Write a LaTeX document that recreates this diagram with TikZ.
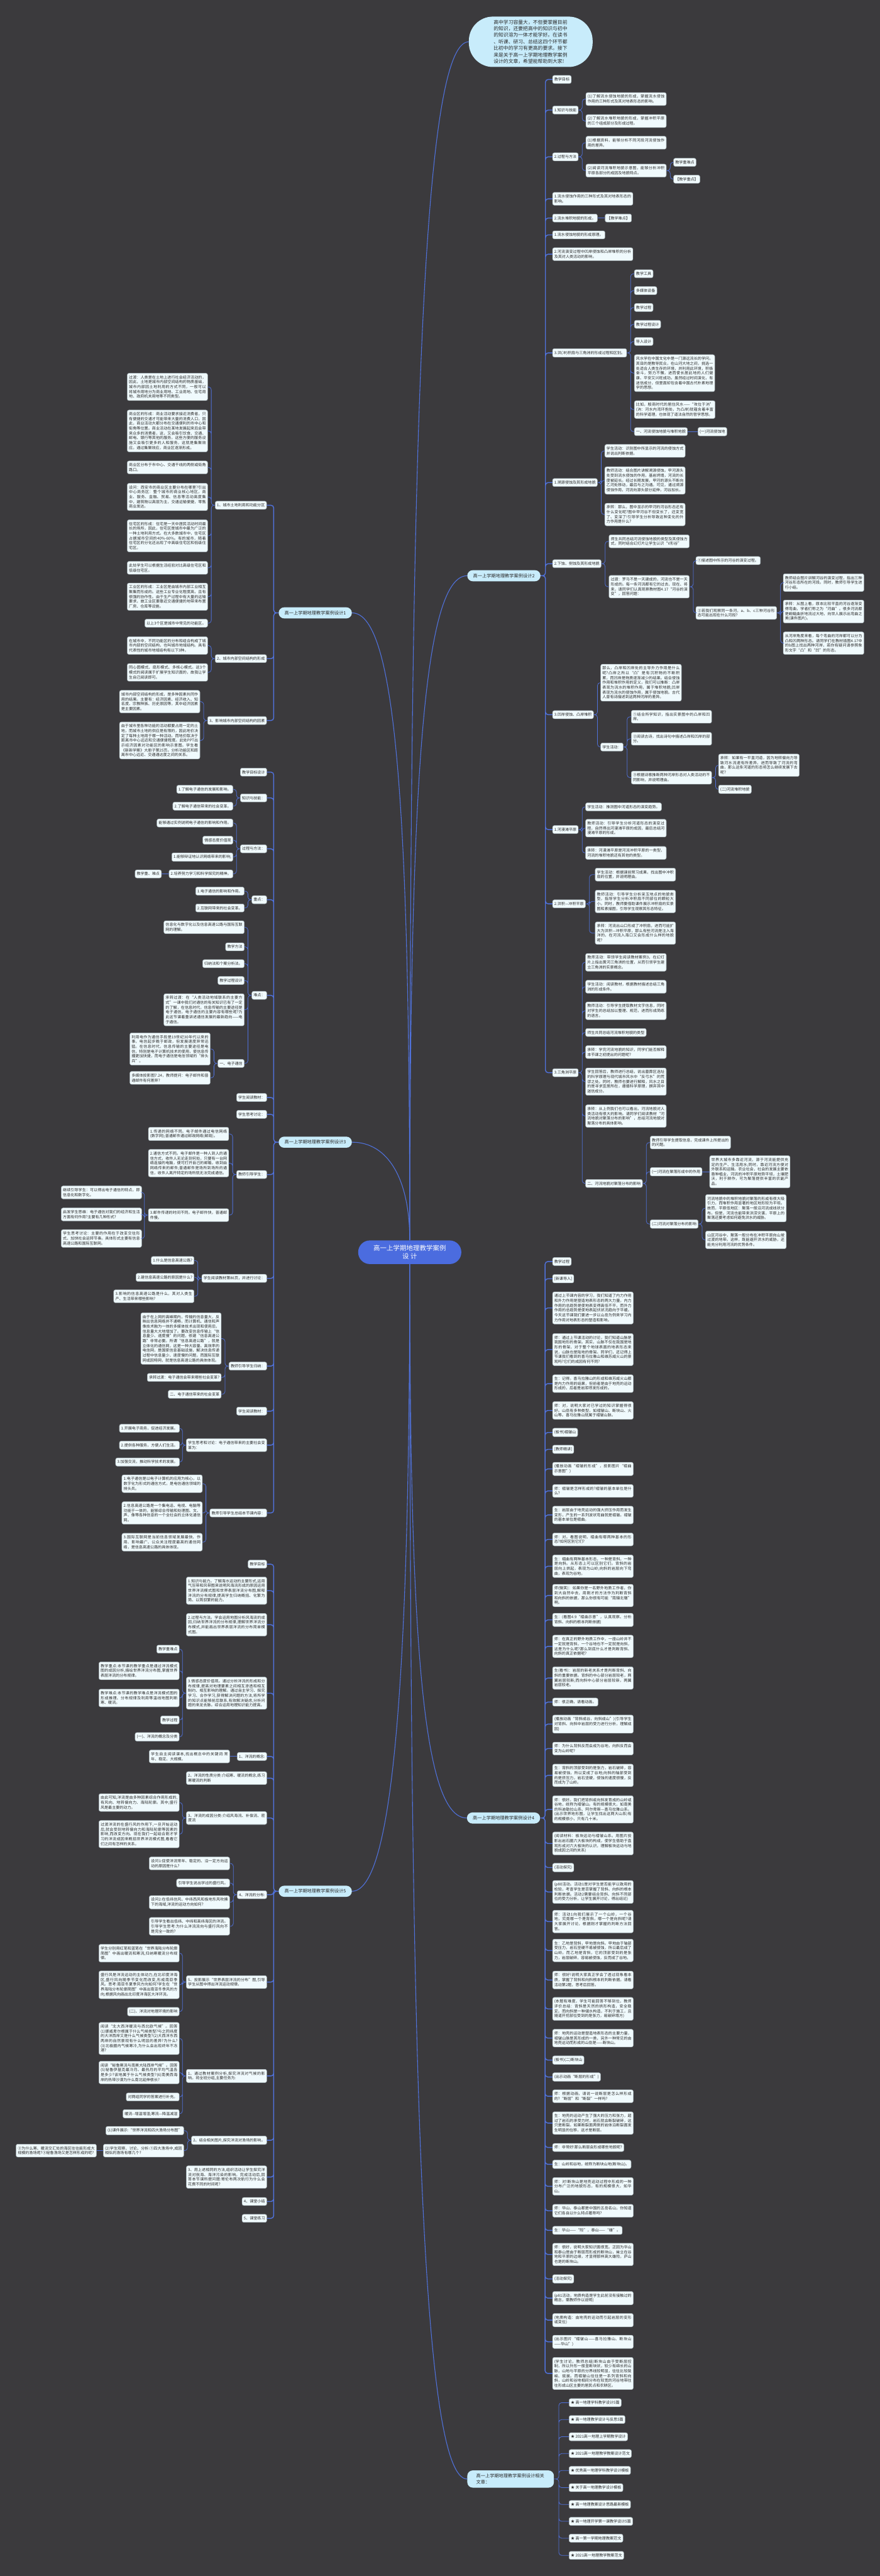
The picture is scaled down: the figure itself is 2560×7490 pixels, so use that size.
\documentclass[tikz,border=0pt]{standalone}
\usepackage{fontspec}
\setmainfont{Noto Sans CJK SC}
\XeTeXlinebreaklocale "zh"
\XeTeXlinebreakskip=0pt plus 1pt
\definecolor{bg}{HTML}{3B3A3D}
\definecolor{linkc}{HTML}{5072DC}
\definecolor{boxfill}{HTML}{F0FAFD}
\definecolor{boxline}{HTML}{A8B4BA}
\definecolor{branchfill}{HTML}{C8ECFB}
\definecolor{rootfill}{HTML}{4B6CDF}
\definecolor{ink}{HTML}{2A2A2A}

\begin{document}
\begin{tikzpicture}[x=0.5pt, y=-0.5pt,
  box/.style={draw=boxline, fill=boxfill, line width=0.5pt, rounded corners=2.5pt,
    inner xsep=2.5pt, inner ysep=3.3pt, text=ink, font=\fontsize{5.55}{7}\selectfont},
  rbox/.style={box, anchor=west},
  lbox/.style={box, anchor=east},
  tw/.code={\pgfmathsetlengthmacro\boxtw{#1*0.5pt-4.6pt}\tikzset{text width=\boxtw, align=justify}},
  branch/.style={fill=branchfill, rounded corners=8pt, inner xsep=8.5pt, inner ysep=5pt,
    text=ink, font=\fontsize{6.6}{9}\selectfont},
  root/.style={fill=rootfill, text=white, rounded corners=17pt, inner xsep=20pt, inner ysep=6.5pt,
    text width=110pt, align=center, font=\fontsize{9.5}{12.5}\selectfont},
  intro/.style={fill=branchfill, rounded corners=35pt, inner xsep=36pt, inner ysep=4.7pt,
    text width=108pt, align=left, text=ink, font=\fontsize{7.15}{9.5}\selectfont},
  link/.style={draw=linkc, line width=0.7pt, rounded corners=4pt},
  mainlink/.style={link, line width=1.3pt},
  curve/.style={draw=linkc, line width=1pt},
  rl/.style={to path={-- ++(#1,0) |- (\tikztotarget)}}, rl/.default=5.5pt,
  ll/.style={to path={-- ++(-#1,0) |- (\tikztotarget)}}, ll/.default=5.5pt]

  \fill[bg] (0,0) rectangle (2560,7490);
  \useasboundingbox (0,0) rectangle (2560,7490);

  \node[root] (root) at (1192,3641) {高一上学期地理教学案例\\设计};
  \node[intro] (intro) at (1544,121.5) {高中学习容量大，不但要掌握目前\\的知识，还要把高中的知识与初中\\的知识溶为一体才能学好。在读书\\、听课、研习、总结这四个环节都\\比初中的学习有更高的要求。接下\\来是关于高一上学期地理教学案例\\设计的文章，希望能帮助到大家!};

  \node[branch, anchor=west] (d2) at (1359,1674) {高一上学期地理教学案例设计2};
  \node[branch, anchor=east] (d1) at (1024,1782) {高一上学期地理教学案例设计1};
  \node[branch, anchor=east] (d3) at (1024,3321) {高一上学期地理教学案例设计3};
  \node[branch, anchor=west] (d4) at (1358,5286) {高一上学期地理教学案例设计4};
  \node[branch, anchor=east] (d5) at (1024,5499) {高一上学期地理教学案例设计5};
  \node[branch, anchor=west, text width=100pt, align=left, inner xsep=13pt] (d6) at (1359,7208) {高一上学期地理教学案例设计相关\\文章：};

  \draw[curve] (root.north) .. controls (1192,1238) and (1231,121.5) .. (intro.west);
  \draw[curve] (root.north) .. controls (1192,2300) and (1230,1674) .. (d2.west);
  \draw[curve] (root.north) .. controls (1192,2366) and (1153,1782) .. (d1.east);
  \draw[curve] (root.north) .. controls (1192,3430) and (1130,3321) .. (d3.east);
  \draw[curve] (root.south) .. controls (1192,4771) and (1230,5286) .. (d4.west);
  \draw[curve] (root.south) .. controls (1192,4916) and (1140,5499) .. (d5.east);
  \draw[curve] (root.south) .. controls (1192,6078) and (1230,7208) .. (d6.west);

  % design 2
  \node[rbox] (a1) at (1607,231) {教学目标};
  \node[rbox] (a2) at (1607,320) {1.知识与技能};
  \node[rbox, tw=233] (a2a) at (1704,288) {(1)了解流水侵蚀地貌的形成，掌握流水侵蚀作用的三种形式及其对地表形态的影响。};
  \node[rbox, tw=233] (a2b) at (1704,352) {(2)了解流水堆积地貌的形成，掌握冲积平原的三个组成部分及形成过程。};
  \node[rbox] (a3) at (1607,456) {2.过程与方法};
  \node[rbox, tw=233] (a3a) at (1704,415) {(1)根据资料，能够分析不同河段河流侵蚀作用的差异。};
  \node[rbox, tw=233] (a3b) at (1704,496) {(2)阅读河流堆积地貌示意图，能够分析冲积平原各部分的成因及地貌特点。};
  \node[rbox] (a3b1) at (1959,472) {教学重难点};
  \node[rbox] (a3b2) at (1959,521) {【教学重点】};
  \node[rbox, tw=233] (a4) at (1607,578) {1.流水侵蚀作用的三种形式及其对地表形态的影响。};
  \node[rbox] (a5) at (1607,634) {2.流水堆积地貌的形成。};
  \node[rbox] (a5a) at (1760,634) {【教学难点】};
  \node[rbox] (a6) at (1607,683) {1.流水侵蚀地貌的形成原理。};
  \node[rbox, tw=233] (a7) at (1607,739) {2.河流演变过程中凹岸侵蚀和凸岸堆积的分析及其对人类活动的影响。};
  \node[rbox] (a8) at (1607,1026) {3.洪(冲)积扇与三角洲的形成过程和区别。};
  \node[rbox] (a8a) at (1845,796) {教学工具};
  \node[rbox] (a8b) at (1845,845) {多媒体设备};
  \node[rbox] (a8c) at (1845,894) {教学过程};
  \node[rbox] (a8d) at (1845,943) {教学过程设计};
  \node[rbox] (a8e) at (1845,993) {导入设计};
  \node[rbox, tw=233] (a8f) at (1845,1085) {风水学在中国文化中是一门源远流长的学问。其目的是教导民众，在山河大地之间，挑选一处适合人类生存的环境，并利用此环境，积极奋斗，努力不懈，进而使长居此地的人们健康、平安又兴旺成功。虽然经过时间演化，有迷信成分，但里面却包含着中国古代朴素地理学的思想。};
  \node[rbox, tw=234] (a8g) at (1845,1191) {比如，殷商时代的居住风水——“攻位于汭”(汭：河水内湾环抱处，为凸岸)就蕴含着丰富的科学道理，也体现了道法自然的哲学思想。};
  \node[rbox] (a8h) at (1845,1255) {一、河流侵蚀地貌与堆积地貌};
  \node[rbox] (a8h1) at (2030,1255) {(一)河流侵蚀地};
  \node[rbox] (a9) at (1607,1403) {1.溯源侵蚀及其形成地貌};
  \node[rbox, tw=233] (a9a) at (1759,1311) {学生活动：识别图中所显示的河流的侵蚀方式并说出判断依据。};
  \node[rbox, tw=233] (a9b) at (1759,1397) {教师活动：结合图片讲解溯源侵蚀。甲河源头处受到流水侵蚀的作用，基岩坍塌，河流的长度被延长。经过长期发展，甲河的源头不断向乙河处移动，最后与之沟通。可见，通过溯源侵蚀作用，河流向源头部分延伸，河谷加长。};
  \node[rbox, tw=233] (a9c) at (1759,1496) {承转：那么，图中显示的甲河的河谷形态还有什么变化呢?图中甲河谷不但变长了，还变宽了、变深了!引导学生分析导致这种变化的外力作用是什么?};
  \node[rbox] (a10) at (1607,1639) {2.下蚀、侧蚀及其形成地貌};
  \node[rbox, tw=233] (a10a) at (1771,1574) {师生共同总结河流侵蚀地貌的类型及其侵蚀方式，同时结合幻灯片让学生认识“V形谷”};
  \node[rbox, tw=233] (a10b) at (1771,1706) {过渡：罗马不是一天建成的，河流也不是一天形成的。每一条河流都有它的过去、现在、将来，请同学们认真观察教材图4.17“河谷的演变”，回答问题：};
  \node[rbox] (a10b1) at (2024,1630) {①描述图中所示的河谷的演变过程。};
  \node[rbox, tw=234] (a10b2) at (2024,1782) {②若我们观察同一条河，a、b、c三种河谷形态可能出现在什么河段?};
  \node[rbox, tw=234] (a10b2a) at (2278,1694) {教师结合图片讲解河谷的演变过程，指出三种河谷形态所在的河段。同时，教师引导学生进行小结。};
  \node[rbox, tw=234] (a10b2b) at (2278,1778) {承转：从图上看，原本比较平直的河谷逐渐变得弯曲，学者们称之为“河曲”。很多河流都是蜿蜒曲折地流过大地，向世人展示出弯曲之美(课件图片)。};
  \node[rbox, tw=234] (a10b2c) at (2278,1870) {从河岸角度来看，每个弯曲的河岸都可以分为凸和凹两种形态。请同学们在教材插图4.17中的b图上找出两种河岸，若你有疑问请参照象形文字“凸”和“凹”的形态。};
  \node[rbox] (a11) at (1607,2078) {3.凹岸侵蚀、凸岸堆积};
  \node[rbox, tw=234] (a11a) at (1747,1985) {那么，凸岸和凹岸处的主导外力作用是什么呢?凸岸之所以“凸”是有沉积物的不断积累，而凹岸是物质逐渐减少的结果。结合侵蚀作用和堆积作用的定义，我们可以推断：凸岸表现为流水的堆积作用，属于堆积地貌;凹岸表现为流水的侵蚀作用，属于侵蚀地貌。古代人曾有诗描述到这两种河岸的差异。};
  \node[rbox] (a11b) at (1747,2172) {学生活动：};
  \node[rbox, tw=233] (a11b1) at (1836,2084) {①结合所学知识，指出实景图中的凸岸和凹岸。};
  \node[rbox, tw=233] (a11b2) at (1836,2148) {②阅读古诗，找出诗句中描述凸岸和凹岸的部分。};
  \node[rbox, tw=233] (a11b3) at (1836,2261) {③根据诗歌推断两种河岸形态对人类活动的不同影响，并说明理由。};
  \node[rbox, tw=234] (a11b3a) at (2090,2225) {承转：如果有一平直河道，因为地转偏向力导致河水流速有所差异，进而导致了河流的弯曲，那么这条河道的形态将怎么继续发展下去呢?};
  \node[rbox] (a11b3b) at (2090,2295) {(二)河流堆积地貌};
  \node[rbox] (a12) at (1607,2412) {1.河漫滩平原};
  \node[rbox] (a12a) at (1703,2346) {学生活动：推测图中河道形态的演变趋势。};
  \node[rbox, tw=234] (a12b) at (1703,2408) {教师活动：引导学生分析河道形态的演变过程，自然得出河漫滩平原的成因，最后总结河漫滩平原的形成。};
  \node[rbox, tw=234] (a12c) at (1703,2480) {承转：河漫滩平原是河流冲积平原的一类型，河流的堆积地貌还有其他的类型。};
  \node[rbox] (a13) at (1607,2628) {2.洪积—冲积平原};
  \node[rbox, tw=233] (a13a) at (1731,2543) {学生活动：根据课前预习成果，找出图中冲积扇的位置，并说明理由。};
  \node[rbox, tw=233] (a13b) at (1731,2621) {教师活动：引导学生分析采玉地点的地貌类型，指导学生分析冲积扇不同部位的颗粒大小。同时，教师要借助课件展示冲积扇的实景图和素描图，引导学生观察其形态特征。};
  \node[rbox, tw=233] (a13c) at (1731,2713) {承转：河流出山口形成了冲积扇，进而可能扩大为洪积—冲积平原，那么有些河流是注入海洋的，在河流入海口又会形成什么样的地貌呢?};
  \node[rbox] (a14) at (1607,3119) {3.三角洲平原};
  \node[rbox, tw=234] (a14a) at (1703,2798) {教师活动：带领学生阅读教材案例3，在幻灯片上指出黄河三角洲的位置，从而引领学生建立三角洲的实景概念。};
  \node[rbox, tw=234] (a14b) at (1703,2869) {学生活动：阅读教材，根据教材描述总结三角洲的形成条件。};
  \node[rbox, tw=234] (a14c) at (1703,2939) {教师活动：引导学生提取教材文字信息，同时对学生的总结加以整理、规范，进而形成简练的语言。};
  \node[rbox] (a14d) at (1703,3002) {师生共同总结河流堆积地貌的类型};
  \node[rbox, tw=234] (a14e) at (1703,3059) {承转：学完河流地貌的知识，同学们能否解释本节课之初提出的问题呢?};
  \node[rbox, tw=234] (a14f) at (1703,3145) {学生回答后，教师进行总结，说出墓葬区选址的科学原理与现代城市风水中“反弓水”的荒谬之处。同时，教师也要进行解释，风水之目的是寻求宜居所在，遵循科学原理，摒弃其中迷信成分。};
  \node[rbox, tw=234] (a14g) at (1703,3245) {承转：从上例我们也可以看出，河流地貌对人类活动有很大的影响。请同学们阅读教材“河流地貌对聚落分布的影响”，总结河流地貌对聚落分布的具体影响。};
  \node[rbox] (a14h) at (1703,3441) {二、河流地貌对聚落分布的影响};
  \node[rbox, tw=233] (a14h1) at (1891,3322) {教师引导学生提取信息，完成课件上所提出的的问题。};
  \node[rbox] (a14h2) at (1891,3407) {(一)河流在聚落形成中的作用};
  \node[rbox, tw=233] (a14h2a) at (2064,3407) {世界大城市多靠近河流，源于河流能提供充足的生产、生活用水;同时，靠近河流方便对外联系和运输。农业社会，社会的发展主要依靠种植业，河流的冲积平原地势平坦，土壤肥沃，利于耕作，可为聚落提供丰富的农副产品。};
  \node[rbox] (a14h3) at (1891,3559) {(二)河流对聚落分布的影响};
  \node[rbox, tw=234] (a14h3a) at (2052,3513) {河流地貌中的堆积地貌对聚落的形成有很大吸引力，而堆积作用显著的地区地形较为平坦。故而，平原低地区：聚落一般沿河流成线状分布。但是，河流也能带来洪涝灾害，平原上的聚落还要考虑如何避免洪水的威胁。};
  \node[rbox, tw=234] (a14h3b) at (2052,3605) {山区河谷中，聚落一般分布在冲积平原向山坡过渡的地带。这样，既能避开洪水的威胁，还能充分利用河流的优势条件。};

  \draw[mainlink, rl=7pt] (d2.east) to (a1.west) (d2.east) to (a2.west) (d2.east) to (a3.west)
    (d2.east) to (a4.west) (d2.east) to (a5.west) (d2.east) to (a6.west) (d2.east) to (a7.west)
    (d2.east) to (a8.west) (d2.east) to (a9.west) (d2.east) to (a10.west) (d2.east) to (a11.west)
    (d2.east) to (a12.west) (d2.east) to (a13.west) (d2.east) to (a14.west);
  \draw[link, rl] (a2.east) to (a2a.west) (a2.east) to (a2b.west);
  \draw[link, rl] (a3.east) to (a3a.west) (a3.east) to (a3b.west);
  \draw[link, rl] (a3b.east) to (a3b1.west) (a3b.east) to (a3b2.west);
  \draw[link] (a5.east) -- (a5a.west); \draw[link] (a8h.east) -- (a8h1.west);
  \draw[link, rl] (a8.east) to (a8a.west) (a8.east) to (a8b.west) (a8.east) to (a8c.west)
    (a8.east) to (a8d.west) (a8.east) to (a8e.west) (a8.east) to (a8f.west)
    (a8.east) to (a8g.west) (a8.east) to (a8h.west);
  \draw[link, rl] (a9.east) to (a9a.west) (a9.east) to (a9b.west) (a9.east) to (a9c.west);
  \draw[link, rl] (a10.east) to (a10a.west) (a10.east) to (a10b.west);
  \draw[link, rl] (a10b.east) to (a10b1.west) (a10b.east) to (a10b2.west);
  \draw[link, rl] (a10b2.east) to (a10b2a.west) (a10b2.east) to (a10b2b.west) (a10b2.east) to (a10b2c.west);
  \draw[link, rl] (a11.east) to (a11a.west) (a11.east) to (a11b.west);
  \draw[link, rl] (a11b.east) to (a11b1.west) (a11b.east) to (a11b2.west) (a11b.east) to (a11b3.west);
  \draw[link, rl] (a11b3.east) to (a11b3a.west) (a11b3.east) to (a11b3b.west);
  \draw[link, rl] (a12.east) to (a12a.west) (a12.east) to (a12b.west) (a12.east) to (a12c.west);
  \draw[link, rl] (a13.east) to (a13a.west) (a13.east) to (a13b.west) (a13.east) to (a13c.west);
  \draw[link, rl] (a14.east) to (a14a.west) (a14.east) to (a14b.west) (a14.east) to (a14c.west)
    (a14.east) to (a14d.west) (a14.east) to (a14e.west) (a14.east) to (a14f.west)
    (a14.east) to (a14g.west) (a14.east) to (a14h.west);
  \draw[link, rl] (a14h.east) to (a14h1.west) (a14h.east) to (a14h2.west) (a14h.east) to (a14h3.west);
  \draw[link] (a14h2.east) -- (a14h2a.west);
  \draw[link, rl] (a14h3.east) to (a14h3a.west) (a14h3.east) to (a14h3b.west);

  % design 1
  \node[lbox] (b1) at (776,1469) {1、城市土地利用和功能分区};
  \node[lbox, tw=233] (b1a) at (604.5,1125) {过渡：人类是在土地上进行社会经济活动的，因此，土地是城市内部空间结构的物质基础，城市内部因土地利用的方式不同，一般可以将城市用地分为商业用地、工业用地、住宅用地、政府机关用地等不同类型。};
  \node[lbox, tw=233] (b1b) at (604.5,1253) {商业区的形成：商业活动要求接近消费者，只有便捷的交通才可能带来大量的消费人口，因此，商业活动大都分布在交通便利的市中心和街角等位置。商业活动在某地发展起来后会带来众多的消费者，这，又会吸引饮食、交通、邮电、银行等其他的服务，这些方便的服务设施又会吸引更多的人和服务，这就是集聚效应。通过集聚效应，商业区逐渐形成。};
  \node[lbox, tw=233] (b1c) at (604.5,1359) {商业区分布于市中心、交通干线的两侧或街角路口。};
  \node[lbox, tw=233] (b1d) at (604.5,1445) {设问：西安市的商业区主要分布在哪里?引出中心商务区：整个城市的商业核心地区，商业、服务、金融、贸易、信息等活动高度集中，建筑物以高层为主，交通运输便捷，零售商业发达。};
  \node[lbox, tw=233] (b1e) at (604.5,1558) {住宅区的形成：住宅是一天中居民活动时间最长的场所，因此，住宅区是城市中最为广泛的一种土地利用方式。在大多数城市中，住宅区占据城市空间的40\%-60\%。有的城市，随着住宅区的分化还出现了中高级住宅区和低级住宅区。};
  \node[lbox, tw=233] (b1f) at (604.5,1651) {此处学生可以根据生活经验对比高级住宅区和低级住宅区。};
  \node[lbox, tw=233] (b1g) at (604.5,1735) {工业区的形成：工业区是由城市内部工业相互聚集而形成的。这些工业专业化程度高，且有很强的协作性。由于生产过程中有大量的运输要求，故工业区要靠近交通便捷的地带来布置厂房、仓库等设施。};
  \node[lbox] (b1h) at (604.5,1812) {以上3个区是城市中常见的功能区。};
  \node[lbox] (b2) at (776,1915) {2、城市内部空间结构的形成};
  \node[lbox, tw=233] (b2a) at (604.5,1877) {在城市中，不同功能区的分布和组合构成了城市内部的空间结构，也叫城市地域结构。具有代表性的城市地域结构有以下3种。};
  \node[lbox, tw=233] (b2b) at (604.5,1955) {同心圆模式、扇形模式、多核心模式。这3个模式的阅读属于扩展学生知识面的，故我让学生自己阅读即可。};
  \node[lbox] (b3) at (776,2095) {3、影响城市内部空间结构的因素};
  \node[lbox, tw=233] (b3a) at (582,2040) {城市内部空间结构的形成，是多种因素共同作用的结果。主要有：经济因素、经济收入、知名度、宗教种族、历史原因等，其中经济因素是主要因素。};
  \node[lbox, tw=233] (b3b) at (582,2153) {由于城市里各种功能的活动都要占用一定的土地，而城市土地的供应是有限的，因此地价决定了每种土地用于哪一种活动。而地价取决于距离市中心远近和交通便捷程度。此处PPT出示经济因素对功能区的影响示意图。学生看《新新学案》大册子第25页。分析功能区和距离市中心远近、交通通达度之间的关系。};

  \draw[mainlink, ll=7pt] (d1.west) to (b1.east) (d1.west) to (b2.east) (d1.west) to (b3.east);
  \draw[link, ll] (b1.west) to (b1a.east) (b1.west) to (b1b.east) (b1.west) to (b1c.east)
    (b1.west) to (b1d.east) (b1.west) to (b1e.east) (b1.west) to (b1f.east)
    (b1.west) to (b1g.east) (b1.west) to (b1h.east);
  \draw[link, ll] (b2.west) to (b2a.east) (b2.west) to (b2b.east);
  \draw[link, ll] (b3.west) to (b3a.east) (b3.west) to (b3b.east);

  % design 3
  \node[lbox] (e1) at (776.5,2245) {教学目标设计};
  \node[lbox] (e2) at (776.5,2320) {知识与技能：};
  \node[lbox] (e2a) at (678,2295) {1.了解电子通信的发展和影响。};
  \node[lbox] (e2b) at (678,2344) {2.了解电子通信带来的社会变革。};
  \node[lbox] (e3) at (776.5,2468) {过程与方法：};
  \node[lbox] (e3a) at (678,2393) {能够通过实例说明电子通信的影响和作用。};
  \node[lbox] (e3b) at (678,2443) {情感态度价值观};
  \node[lbox] (e3c) at (678,2492) {1.能够辩证地认识网络带来的影响;};
  \node[lbox] (e3d) at (678,2541) {2.培养努力学习和科学探究的精神。};
  \node[lbox] (e3d1) at (470,2541) {教学重、难点};
  \node[lbox] (e4) at (776.5,2616) {重点：};
  \node[lbox] (e4a) at (711,2591) {1.电子通信的影响和作用。};
  \node[lbox] (e4b) at (711,2640) {2.互联网带来的社会变革。};
  \node[lbox] (e5) at (776.5,2894) {难点：};
  \node[lbox, tw=233] (e5a) at (711,2696) {信息化与数字化以及信息高速公路与国际互联网的理解。};
  \node[lbox] (e5b) at (711,2753) {教学方法};
  \node[lbox] (e5c) at (711,2802) {归纳法和个案分析法。};
  \node[lbox] (e5d) at (711,2851) {教学过程设计};
  \node[lbox, tw=233] (e5e) at (711,2936) {承转过渡：在“人类活动地域联系的主要方式”一课中我们对通信的有关知识已有了一定的了解，在信息时代，信息传输的主要途径是电子通信，电子通信的主要内容有哪些呢?为此这节课着重讲述通信发展的最新趋向——电子通信。};
  \node[lbox] (e5f) at (711,3092) {一、电子通信};
  \node[lbox, tw=233] (e5f1) at (612,3050) {利用电作为通信手段是19世纪30年代以来的事，电信起步晚于邮政，但发展速度异常迅猛。在信息时代，信息传输的主要途径是电信，特别是电子计算机技术的使用，使信息传播更加快捷，而电子通信是电信领域的“排头兵”。};
  \node[lbox, tw=233] (e5f2) at (612,3134) {多媒体投影图7.24，教师提问：电子邮件和普通邮件有何差异?};
  \node[lbox] (e6) at (776.5,3191) {学生阅读教材：};
  \node[lbox] (e7) at (776.5,3240) {学生思考讨论：};
  \node[lbox] (e8) at (776.5,3415) {教师引导学生：};
  \node[lbox, tw=233] (e8a) at (666,3297) {1.传递的网络不同。电子邮件通过电信网络(数字网);普通邮件通过邮政网络(邮局)。};
  \node[lbox, tw=233] (e8b) at (666,3382) {2.通信方式不同。电子邮件是一种人到人的通信方式，收件人无论走到何处，只要有一台网络连接的电脑，便可打开自己的邮箱，收到由网络传来的邮件;普通邮件是场所到场所的通信，收件人离开特定的场所就无法完成通信。};
  \node[lbox, tw=233] (e8c) at (666,3533) {3.邮件传递的时间不同。电子邮件快，普通邮件慢。};
  \node[lbox, tw=233] (e8c1) at (412.5,3467) {继续引导学生：可以得出电子通信的特点，即信息化和数字化。};
  \node[lbox, tw=233] (e8c2) at (412.5,3531) {启发学生思维：电子通信对我们的经济和生活方面有何作用?主要有几种形式?};
  \node[lbox, tw=233] (e8c3) at (412.5,3601) {学生思考讨论：主要的作用在于改变交往形式、加快社会运转节奏。具体形式主要有信息高速公路和国际互联网。};
  \node[lbox] (e9) at (776.5,3717) {学生阅读教材第86页，并进行讨论：};
  \node[lbox] (e9a) at (565,3665) {1.什么是信息高速公路?};
  \node[lbox] (e9b) at (565,3714) {2.建信息高速公路的原因是什么?};
  \node[lbox, tw=233] (e9c) at (565,3769) {3.影响的信息高速公路是什么，其对人类生产、生活带来哪些影响?};
  \node[lbox] (e10) at (776.5,3972) {教师引导学生归纳：};
  \node[lbox, tw=233] (e10a) at (644,3892) {由于在上网的高峰期内，传输的信息量大，反映出信息网络并不通畅，而计算机、通信和声像技术融为一体的多媒体技术出现和使用后，信息量大大地增加了。要改变信息传输上“信息量少、速度慢”的问题，修建“信息高速公路”非常必要。所谓“信息高速公路”，就是立体化的通信网，这是一种大容量、高效率的电信网，是国家信息基础设施，解决信息传递过程中信息量少、速度慢的问题，而国际互联网或因特网，就是信息高速公路的具体体现。};
  \node[lbox] (e10b) at (644,4005) {承转过渡：电子通信会带来哪些社会变革?};
  \node[lbox] (e10c) at (644,4054) {二、电子通信带来的社会变革};
  \node[lbox] (e11) at (776.5,4103) {学生阅读教材：};
  \node[lbox, tw=233] (e12) at (776.5,4202) {学生思考和讨论：电子通信带来的主要社会变革为：};
  \node[lbox] (e12a) at (522.6,4153) {1.开展电子商务，促进经济发展。};
  \node[lbox] (e12b) at (522.6,4202) {2.提供各种服务，方便人们生活。};
  \node[lbox] (e12c) at (522.6,4251) {3.加强交流，推动科学技术的发展。};
  \node[lbox] (e13) at (776.5,4399) {教师引导学生总结本节课内容：};
  \node[lbox, tw=233] (e13a) at (589,4314) {1.电子通信是以电子计算机的应用为核心，以数字化为形式的通信方式，是电信通信领域的排头兵。};
  \node[lbox, tw=233] (e13b) at (589,4399) {2.信息高速公路是一个集电话、电视、电脑等功能于一体的，能够综合传输和处理图、文、声、像等各种信息的一个全社会的立体化通信网。};
  \node[lbox, tw=233] (e13c) at (589,4484) {3.国际互联网是当前信息领域发展最快、作用、影响最广、公众关注程度最高的通信网络，是信息高速公路的具体体现。};

  \draw[mainlink, ll=7pt] (d3.west) to (e1.east) (d3.west) to (e2.east) (d3.west) to (e3.east)
    (d3.west) to (e4.east) (d3.west) to (e5.east) (d3.west) to (e6.east) (d3.west) to (e7.east)
    (d3.west) to (e8.east) (d3.west) to (e9.east) (d3.west) to (e10.east) (d3.west) to (e11.east)
    (d3.west) to (e12.east) (d3.west) to (e13.east);
  \draw[link, ll] (e2.west) to (e2a.east) (e2.west) to (e2b.east);
  \draw[link, ll] (e3.west) to (e3a.east) (e3.west) to (e3b.east) (e3.west) to (e3c.east) (e3.west) to (e3d.east);
  \draw[link] (e3d.west) -- (e3d1.east);
  \draw[link, ll] (e4.west) to (e4a.east) (e4.west) to (e4b.east);
  \draw[link, ll] (e5.west) to (e5a.east) (e5.west) to (e5b.east) (e5.west) to (e5c.east)
    (e5.west) to (e5d.east) (e5.west) to (e5e.east) (e5.west) to (e5f.east);
  \draw[link, ll] (e5f.west) to (e5f1.east) (e5f.west) to (e5f2.east);
  \draw[link, ll] (e8.west) to (e8a.east) (e8.west) to (e8b.east) (e8.west) to (e8c.east);
  \draw[link, ll] (e8c.west) to (e8c1.east) (e8c.west) to (e8c2.east) (e8c.west) to (e8c3.east);
  \draw[link, ll] (e9.west) to (e9a.east) (e9.west) to (e9b.east) (e9.west) to (e9c.east);
  \draw[link, ll] (e10.west) to (e10a.east) (e10.west) to (e10b.east) (e10.west) to (e10c.east);
  \draw[link, ll] (e12.west) to (e12a.east) (e12.west) to (e12b.east) (e12.west) to (e12c.east);
  \draw[link, ll] (e13.west) to (e13a.east) (e13.west) to (e13b.east) (e13.west) to (e13c.east);

  % design 4
  \node[rbox] (c1) at (1607,3668) {教学过程};
  \node[rbox] (c2) at (1607,3718) {[新课导入]};
  \node[rbox, tw=234] (c3) at (1607,3803) {通过上节课内容的学习，我们知道了内力作用和外力作用是塑造地表形态的两大力量，内力作用的总趋势是使地表变得高低不平，而外力作用的总趋势是使地表起伏状况趋向于平缓。今天这节课我们要进一步以山岳为例来学习内力作用对地表形态的塑造和影响。};
  \node[rbox, tw=234] (c4) at (1607,3924) {师：通过上节课活动的讨论，我们知道山脉是我国地形的骨架。其实，山脉不仅在我国是地形的骨架，对于整个地球表面的地表形态来说，山脉也是陆地的骨架。同学们，还记得上节课我们看到的喜马拉雅山和维苏威火山的景观吗?它们的成因有何不同?};
  \node[rbox, tw=234] (c5) at (1607,4023) {生：记得。喜马拉雅山的形成和维苏威火山都是内力作用的结果，但前者是由于地壳的运动形成的，后者是岩浆喷发形成的。};
  \node[rbox, tw=234] (c6) at (1607,4101) {师：对，说明大家对已学过的知识掌握得很好。山岳有多种类型，如褶皱山、断块山、火山等。喜马拉雅山就属于褶皱山脉。};
  \node[rbox] (c7) at (1607,4165) {(板书)褶皱山};
  \node[rbox] (c8) at (1607,4214) {[教师精讲]};
  \node[rbox, tw=234] (c9) at (1607,4271) {(播放动画“褶皱的形成”，投影图片“褶曲示意图”)};
  \node[rbox, tw=234] (c10) at (1607,4335) {师：褶皱是怎样形成的?褶皱的基本单位是什么?};
  \node[rbox, tw=234] (c11) at (1607,4405) {生：岩层由于地壳运动的强大挤压作用而发生变形，产生的一系列波状弯曲就是褶皱。褶皱的基本单位是褶曲。};
  \node[rbox, tw=234] (c12) at (1607,4476) {师：对。看图说明，褶曲有哪两种基本的形态?如何区别它们?};
  \node[rbox, tw=234] (c13) at (1607,4554) {生：褶曲有两种基本形态，一种是背斜，一种是向斜。从形态上可以区别它们。背斜的岩层向上拱起，表现为山岭;向斜的岩层向下弯曲，表现为谷地。};
  \node[rbox, tw=234] (c14) at (1607,4639) {师(微笑)：如果你是一名野外地质工作者，你到大自然中去，用刚才的方法作为判断背斜和向斜的依据，那么你很有可能“南辕北辙”啊。};
  \node[rbox, tw=234] (c15) at (1607,4710) {生：(看图4.9“褶曲示意”，认真观察、分析背斜、向斜的根本判断依据)};
  \node[rbox, tw=234] (c16) at (1607,4787) {师：在真正的野外地质工作中，一座山岭并不一定就是背斜，一个谷地也不一定就是向斜，这是为什么呢?那么到底什么才是判断背斜、向斜的真正依据呢?};
  \node[rbox, tw=234] (c17) at (1607,4879) {生(看书)：岩层的新老关系才是判断背斜、向斜的重要依据。背斜的中心部分岩层较老，两翼岩层较新;而向斜中心部分岩层较新，两翼岩层较老。};
  \node[rbox] (c18) at (1607,4949) {师：很正确，请看动画。};
  \node[rbox, tw=234] (c19) at (1607,5013) {(播放动画“背斜成谷，向斜成山”)(引导学生对背斜、向斜中岩层的受力进行分析，理解成因)};
  \node[rbox, tw=234] (c20) at (1607,5084) {师：为什么背斜反而会成为谷地，向斜反而会变为山岭呢?};
  \node[rbox, tw=234] (c21) at (1607,5162) {生：背斜的顶部受到的是张力，岩石破碎，容易被侵蚀，所以变成了谷地;向斜的轴部受到的是挤压力，岩石坚硬，侵蚀的速度很慢，反而成为了山岭。};
  \node[rbox, tw=234] (c22) at (1607,5261) {师：很好。我们把背斜或向斜发育成的山岭或谷地，统称为褶皱山。有的规模很大，如南美的科迪勒拉山系、阿尔卑斯—喜马拉雅山系。(出示世界地形图，让学生找出这两大山系)有的规模很小，只有几十米。};
  \node[rbox, tw=234] (c23) at (1607,5360) {(阅读材料：板块运动与褶皱山系。用图片投影出岩石圈六大板块的构成，使学生借助于直观形成对六大板块的认识，理解板块运动与地貌成因之间的关系)};
  \node[rbox] (c24) at (1607,5430) {(活动探究)};
  \node[rbox, tw=234] (c25) at (1607,5501) {(p80活动。活动1是对学生是否能学以致用的检验，考查学生是否掌握了背斜、向斜的根本判断依据。活动2需要结合背斜、向斜不同部位的受力分析，让学生展开讨论，得出结论)};
  \node[rbox, tw=234] (c26) at (1607,5587) {师：活动1向我们展示了一个山岭，一个谷地，究竟哪一个是背斜，哪一个是向斜呢?请大家展开讨论，根据刚才掌握的判断方法回答。};
  \node[rbox, tw=234] (c27) at (1607,5671) {生：乙地是背斜，甲地是向斜。甲地由于轴部受压力，岩石坚硬不易被侵蚀，所以最后成了山岭。而乙地是背斜，它的顶部受到的是张力，岩层破碎，容易被侵蚀，反而成了谷地。};
  \node[rbox, tw=234] (c28) at (1607,5757) {师：很好!说明大家真正学会了透过现象看本质，掌握了背斜和向斜根本的判断依据。请看活动第2题，思考后回答。};
  \node[rbox, tw=234] (c29) at (1607,5841) {(本题有难度，学生可能回答不够到位，教师评价总结：背斜是天然的拱形构造，安全稳定。而向斜是一种储水构造，不利于施工，且隧道开挖部位受到的是张力，易破碎塌方)};
  \node[rbox, tw=234] (c30) at (1607,5926) {师：地壳的运动是塑造地表形态的主要力量，褶皱山脉是其形成的一类，另外一种常见的由地壳运动而形成的山岳是——断块山。};
  \node[rbox] (c31) at (1607,5990) {(板书)(二)断块山};
  \node[rbox] (c32) at (1607,6039) {(出示动画“断层的形成”)};
  \node[rbox, tw=234] (c33) at (1607,6095) {师：根据动画，请说一说断层是怎么样形成的?“断层”和“断裂”一样吗?};
  \node[rbox, tw=234] (c34) at (1607,6173) {生：地壳的运动产生了强大的压力和张力，超过了岩石的承受力时，岩石就会断裂破碎，这只是断裂。如果断裂面两侧的岩体沿断裂面发生明显的位移，这才是断层。};
  \node[rbox] (c35) at (1607,6244) {师：非常好!那么断层会形成哪些地貌呢?};
  \node[rbox] (c36) at (1607,6293) {生：山岭和谷地，统称为断块山地(断块山)。};
  \node[rbox, tw=234] (c37) at (1607,6357) {师：对!断块山是地壳运动过程中形成的一种分布广泛的地貌形态，有的规模很大，如华山。};
  \node[rbox, tw=234] (c38) at (1607,6428) {师：华山、泰山都是中国的五岳名山，你知道它们各自以什么特点著称吗?};
  \node[rbox] (c39) at (1607,6485) {生：华山——“险”，泰山——“雄”。};
  \node[rbox, tw=234] (c40) at (1607,6555) {师：很好，说明大家知识面很宽。正因为华山和泰山是由于断层而形成的断块山，耸立在谷地和平原的边缘，才显得那样高大雄险，庐山也是的断块山。};
  \node[rbox] (c41) at (1607,6626) {(活动探究)};
  \node[rbox, tw=234] (c42) at (1607,6682) {(p81活动，地质构造是学生此前没有接触过的概念，需教师作以说明)};
  \node[rbox, tw=234] (c43) at (1607,6746) {(地质构造：由地壳的运动而引起岩层的变形或变位)};
  \node[rbox, tw=234] (c44) at (1607,6809) {(出示图片“褶皱山——喜马拉雅山、断块山——华山”)};
  \node[rbox, tw=234] (c45) at (1607,6901) {(学生讨论，教师总结)断块山由于受断层控制，所以外形一般呈断块状，较少有绵长的山脉，山地与平原的分界线较明显，往往比较陡峻、挺拔。而褶皱山往往是一系列背斜和向斜，山岭和谷地相间分布在较宽的河谷地带往往形成山区主要的居民点和农耕区。};

  \draw[mainlink, rl=7pt] (d4.east) to (c1.west) (d4.east) to (c2.west) (d4.east) to (c3.west)
    (d4.east) to (c4.west) (d4.east) to (c5.west) (d4.east) to (c6.west) (d4.east) to (c7.west)
    (d4.east) to (c8.west) (d4.east) to (c9.west) (d4.east) to (c10.west) (d4.east) to (c11.west)
    (d4.east) to (c12.west) (d4.east) to (c13.west) (d4.east) to (c14.west) (d4.east) to (c15.west)
    (d4.east) to (c16.west) (d4.east) to (c17.west) (d4.east) to (c18.west) (d4.east) to (c19.west)
    (d4.east) to (c20.west) (d4.east) to (c21.west) (d4.east) to (c22.west) (d4.east) to (c23.west)
    (d4.east) to (c24.west) (d4.east) to (c25.west) (d4.east) to (c26.west) (d4.east) to (c27.west)
    (d4.east) to (c28.west) (d4.east) to (c29.west) (d4.east) to (c30.west) (d4.east) to (c31.west)
    (d4.east) to (c32.west) (d4.east) to (c33.west) (d4.east) to (c34.west) (d4.east) to (c35.west)
    (d4.east) to (c36.west) (d4.east) to (c37.west) (d4.east) to (c38.west) (d4.east) to (c39.west)
    (d4.east) to (c40.west) (d4.east) to (c41.west) (d4.east) to (c42.west) (d4.east) to (c43.west)
    (d4.east) to (c44.west) (d4.east) to (c45.west);

  % design 5
  \node[lbox] (g1) at (776.5,4548) {教学目标};
  \node[lbox, tw=233] (g2) at (776.5,4625) {1.知识与能力。了解海水运动的主要形式,运用气压带和风带图来说明风海流形成的原因运用世界洋流模式图和世界表层洋流分布图,解释洋流的分布规律,提高学生归纳概括、化繁为简、以简驭繁的能力。};
  \node[lbox, tw=233] (g3) at (776.5,4724) {2.过程与方法。学会运用地图分析风海流的成因,归纳世界洋流的分布规律,理解世界洋流分布模式,并能画出世界表层洋流的分布简单模式图。};
  \node[lbox, tw=233] (g4) at (776.5,4923) {3.情感态度价值观。通过分析洋流的形成和分布规律,提高对地理要素之间相互渗透和相互制约、相互影响的理解。通过自主学习、探究学习、合作学习,获得解决问题的方法,将所学的知识点能够前后联系,有效解决疑虑,分析问题的来龙去脉。综合运用地理知识能力提高。};
  \node[lbox] (g4a) at (522,4795) {教学重难点};
  \node[lbox, tw=233] (g4b) at (522,4858) {教学重点:本节课的教学重点是通过洋流模式图的成因分析,描绘世界洋流分布图,掌握世界表层洋流的分布规律。};
  \node[lbox, tw=233] (g4c) at (522,4937) {教学难点:本节课的教学难点是洋流模式图的形成推理、分布规律及利用等温线地图判断寒、暖流。};
  \node[lbox] (g4d) at (522,5001) {教学过程};
  \node[lbox] (g4e) at (522,5050) {(一)、洋流的概念及分类};
  \node[lbox] (g5) at (776.5,5107) {1、洋流的概念:};
  \node[lbox, tw=233] (g5a) at (668.5,5107) {学生自主阅读课本,找出概念中的关键词:常年、稳定、大规模。};
  \node[lbox, tw=233] (g6) at (776.5,5170) {2、洋流的性质分类:介绍寒、暖流的概念,练习寒暖流的判断};
  \node[lbox, tw=233] (g7) at (776.5,5286) {3、洋流的成因分类:介绍风海流、补偿流、密度流};
  \node[lbox, tw=233] (g7a) at (522,5241) {由此可知,洋流是由多种因素综合作用形成的,有风向、地转偏向力、海陆轮廓。其中,盛行风是最主要的动力。};
  \node[lbox, tw=233] (g7b) at (522,5333) {过渡洋流的在盛行风的作用下,一旦开始运动后,就会受到地转偏向力和海陆轮廓等因素的影响,而改变方向。现在我们一起结合刚才学习的洋流成因来概括世界洋流模式图,看看它们之间有怎样的关系。};
  \node[lbox] (g8) at (776.5,5509) {4、洋流的分布:};
  \node[lbox, tw=233] (g8a) at (668.5,5418) {设问1:促使洋流常年、稳定的、沿一定方向运动的原因是什么?};
  \node[lbox] (g8b) at (668.5,5475) {引导学生说出学过的盛行风。};
  \node[lbox, tw=233] (g8c) at (668.5,5531) {设问2:在低纬信风、中纬西风和极地东风吹拂下的海域,洋流的运动方向如何?};
  \node[lbox, tw=233] (g8d) at (668.5,5601) {引导学生看出低纬、中纬和高纬海区的洋流。引导学生思考:为什么洋流流向与盛行风向不是完全一致的?};
  \node[lbox, tw=233] (g9) at (776.5,5763) {5、投影展示“世界表层洋流的分布”图,引导学生从图中得出洋流运动规律。};
  \node[lbox, tw=233] (g9a) at (522,5679) {学生分别用红笔和蓝笔在“世界海陆分布轮廓简图”中画出暖流和寒流,归纳寒暖流分布规律。};
  \node[lbox, tw=233] (g9b) at (522,5771) {盛行风是洋流运动的主体动力,在北印度洋海区,盛行风向随季节变化而改变,形成南亚季风。思考:南亚冬夏季风方向如何?学生在“世界海陆分布轮廓简图”中画出南亚冬季风的方向,根据风向画出北印度洋海区大洋环流。};
  \node[lbox] (g9c) at (522,5849) {(二)、洋流对地理环境的影响};
  \node[lbox, tw=233] (g10) at (776.5,6036) {1、通过教材案例分析,探究洋流对气候的影响。将全班分组,主要任务为:};
  \node[lbox, tw=233] (g10a) at (522,5927) {阅读“北大西洋暖流与西北欧气候”。回答(1)挪威卑尔根属于什么气候类型?与之同纬度的大洋西岸又是什么气候类型?(2)大西洋东西两岸的自然景观有什么明显的差异?为什么?(3)北极圈内气候寒冷,为什么会出现终年不冻港?};
  \node[lbox, tw=233] (g10b) at (522,6026) {阅读“秘鲁寒流与南美大陆西岸气候”。回答(5)秘鲁伊基克最冷月、最热月的平均气温各是多少?该地属于什么气候类型?(6)南美西海岸的热带沙漠为什么南北延伸很长?};
  \node[lbox] (g10c) at (522,6097) {对两组同学的答案进行补充。};
  \node[lbox] (g10d) at (522,6146) {暖流-{}-增温增湿;寒流—降温减湿};
  \node[lbox] (g11) at (776.5,6223) {2、结合相关图片,探究洋流对渔场的影响。};
  \node[lbox] (g11a) at (535,6195) {(1)课件展示:“世界洋流和四大渔场分布图”};
  \node[lbox, tw=233] (g11b) at (535,6253) {(2)学生观察、讨论、分析:①四大渔场中,成因相似的渔场有哪几个?};
  \node[lbox, tw=233] (g11b1) at (281,6253) {②为什么寒、暖流交汇处的海区往往能形成大规模的渔场呢?③秘鲁渔场又是怎样形成的呢?};
  \node[lbox, tw=233] (g12) at (776.5,6330) {3、用上述相同的方法,组织活动让学生探究洋流对航海、海洋污染的影响。完成活动后,回答本节课所提问题:哥伦布两次航行为什么会花费不同的时间呢?};
  \node[lbox] (g13) at (776.5,6401) {4、课堂小结};
  \node[lbox] (g14) at (776.5,6450) {5、课堂练习};

  \draw[mainlink, ll=7pt] (d5.west) to (g1.east) (d5.west) to (g2.east) (d5.west) to (g3.east)
    (d5.west) to (g4.east) (d5.west) to (g5.east) (d5.west) to (g6.east) (d5.west) to (g7.east)
    (d5.west) to (g8.east) (d5.west) to (g9.east) (d5.west) to (g10.east) (d5.west) to (g11.east)
    (d5.west) to (g12.east) (d5.west) to (g13.east) (d5.west) to (g14.east);
  \draw[link, ll] (g4.west) to (g4a.east) (g4.west) to (g4b.east) (g4.west) to (g4c.east)
    (g4.west) to (g4d.east) (g4.west) to (g4e.east);
  \draw[link] (g5.west) -- (g5a.east);
  \draw[link, ll] (g7.west) to (g7a.east) (g7.west) to (g7b.east);
  \draw[link, ll] (g8.west) to (g8a.east) (g8.west) to (g8b.east) (g8.west) to (g8c.east) (g8.west) to (g8d.east);
  \draw[link, ll] (g9.west) to (g9a.east) (g9.west) to (g9b.east) (g9.west) to (g9c.east);
  \draw[link, ll] (g10.west) to (g10a.east) (g10.west) to (g10b.east) (g10.west) to (g10c.east) (g10.west) to (g10d.east);
  \draw[link, ll] (g11.west) to (g11a.east) (g11.west) to (g11b.east);
  \draw[link] (g11b.west) -- (g11b1.east);

  % related articles
  \node[rbox] (f1) at (1655,6986) {★ 高一地理学科教学设计5篇};
  \node[rbox] (f2) at (1655,7035) {★ 高一地理教学设计与反思5篇};
  \node[rbox] (f3) at (1655,7085) {★ 2021高一地理上学期教学设计};
  \node[rbox] (f4) at (1655,7134) {★ 2021高一地理教学教案设计范文};
  \node[rbox] (f5) at (1655,7183) {★ 优秀高一地理学科教学设计模板};
  \node[rbox] (f6) at (1655,7233) {★ 关于高一地理教学设计模板};
  \node[rbox] (f7) at (1655,7282) {★ 高一地理教案设计思路最新模板};
  \node[rbox] (f8) at (1655,7331) {★ 高一地理开学第一课教学设计5篇};
  \node[rbox] (f9) at (1655,7380) {★ 高一第一学期地理教案范文};
  \node[rbox] (f10) at (1655,7430) {★ 2021高一地理教学教案范文};

  \draw[link, rl=7pt] (d6.east) to (f1.west) (d6.east) to (f2.west) (d6.east) to (f3.west)
    (d6.east) to (f4.west) (d6.east) to (f5.west) (d6.east) to (f6.west) (d6.east) to (f7.west)
    (d6.east) to (f8.west) (d6.east) to (f9.west) (d6.east) to (f10.west);
\end{tikzpicture}
\end{document}
